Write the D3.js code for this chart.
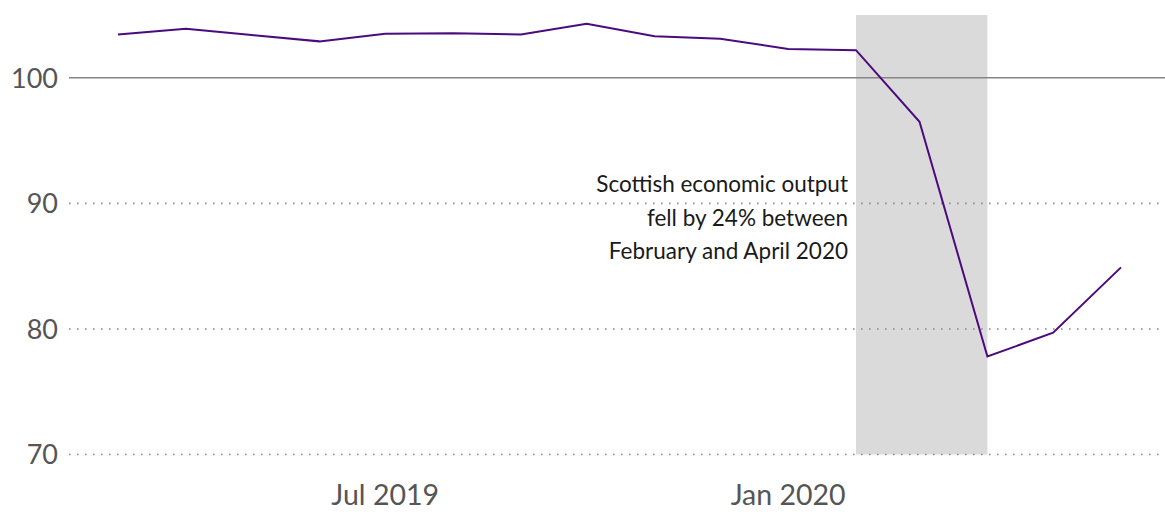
<!DOCTYPE html>
<html>
<head>
<meta charset="utf-8">
<script src="https://cdn.jsdelivr.net/npm/d3@7"></script>
<style>
  html, body { margin: 0; padding: 0; background: #fff; }
  svg { display: block; }
  text { font-family: Lato, "Open Sans", sans-serif; }
</style>
</head>
<body>
<svg id="chart" width="1165" height="512"></svg>
<script>
// Monthly GDP index for Scotland (2016 = 100)
const months = ["2019-03","2019-04","2019-05","2019-06","2019-07","2019-08","2019-09",
                "2019-10","2019-11","2019-12","2020-01","2020-02","2020-03","2020-04",
                "2020-05","2020-06"];
const gdpIndex = [103.45, 103.9, 103.4, 102.9, 103.5, 103.55, 103.45,
                  104.3, 103.3, 103.1, 102.3, 102.2, 96.5, 77.8, 79.7, 84.9];
const yTicks = [70, 80, 90, 100];
const xTickMonths = ["2019-07", "2020-01"];
const shadeMonths = ["2020-02", "2020-04"];
const annotationLines = ["Scottish economic output", "fell by 24% between", "February and April 2020"];

const parse = d3.timeParse("%Y-%m");
const data = months.map((m, i) => ({ date: parse(m), value: gdpIndex[i] }));

const plotLeft = 69, plotRight = 1165;
const svg = d3.select("#chart");

const x = d3.scaleTime()
  .domain([parse("2019-03"), parse("2020-06")])
  .range([118, 1121]);
const y = d3.scaleLinear()
  .domain([70, 105])
  .range([454.5, 15]);

// shaded lockdown period
svg.append("rect")
  .attr("x", x(parse(shadeMonths[0])))
  .attr("width", x(parse(shadeMonths[1])) - x(parse(shadeMonths[0])))
  .attr("y", y(105))
  .attr("height", y(70) - y(105))
  .attr("fill", "#dadada");

// horizontal gridlines: dotted, with a solid reference line at 100
const grid = svg.append("g");
grid.selectAll("line")
  .data(yTicks)
  .join("line")
  .attr("x1", plotLeft)
  .attr("x2", plotRight)
  .attr("y1", d => y(d))
  .attr("y2", d => y(d))
  .attr("stroke", d => d === 100 ? "#858585" : "#8c8c8c")
  .attr("stroke-width", 1.6)
  .attr("stroke-dasharray", d => d === 100 ? null : "1.6,6.4");

// y axis labels
svg.append("g")
  .selectAll("text")
  .data(yTicks)
  .join("text")
  .attr("x", 58)
  .attr("y", d => y(d))
  .attr("dy", "0.36em")
  .attr("text-anchor", "end")
  .attr("font-size", 27)
  .attr("fill", "#555")
  .text(d => d3.format("d")(d));

// x axis labels
const fmt = d3.timeFormat("%b %Y");
svg.append("g")
  .selectAll("text")
  .data(xTickMonths.map(parse))
  .join("text")
  .attr("x", d => x(d))
  .attr("y", 505)
  .attr("text-anchor", "middle")
  .attr("font-size", 28.5)
  .attr("fill", "#555")
  .text(d => fmt(d));

// series line
svg.append("path")
  .datum(data)
  .attr("fill", "none")
  .attr("stroke", "#4b0a7d")
  .attr("stroke-width", 2)
  .attr("stroke-linejoin", "miter")
  .attr("d", d3.line().x(d => x(d.date)).y(d => y(d.value)));

// annotation
const ann = svg.append("text")
  .attr("text-anchor", "end")
  .attr("font-size", 22.5)
  .attr("fill", "#1a1a1a");
annotationLines.forEach((t, i) => {
  ann.append("tspan")
    .attr("x", 848)
    .attr("y", 192 + i * 33.5)
    .text(t);
});
</script>
</body>
</html>
